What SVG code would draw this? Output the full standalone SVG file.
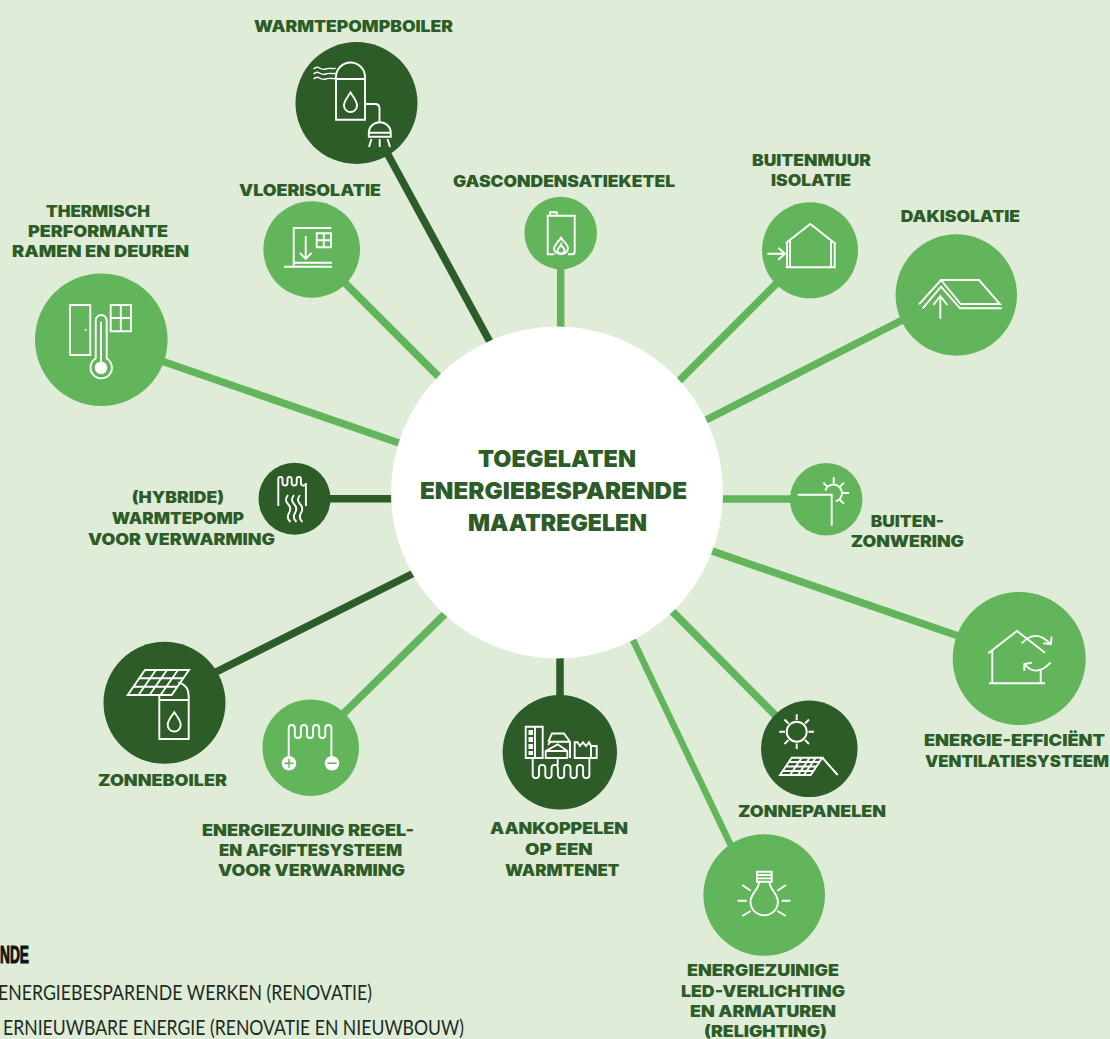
<svg xmlns="http://www.w3.org/2000/svg" width="1110" height="1039" viewBox="0 0 1110 1039">
<style>
.d{fill:#2d5c28}.g{fill:#62b55a}
.c line{stroke-width:7.5;fill:none}.cd{stroke:#2d5c28}.cg{stroke:#62b55a}
.i{fill:none;stroke:#fff;stroke-width:1.9;stroke-linecap:butt;stroke-linejoin:miter}
.w{fill:#fff}
text{font-family:Inter,"Liberation Sans",sans-serif;font-weight:900;fill:#2d5c28;font-size:16px}
.t{font-size:23.500px}
.l{font-family:Lato,"Liberation Sans",sans-serif;font-weight:400;fill:#1c2b1c;font-size:22px}
.lb{font-family:"Liberation Sans",sans-serif;font-weight:700;fill:#111;font-size:23px;stroke:#111;stroke-width:1}
</style>
<rect width="1110" height="1039" fill="#dfecd8"/>
<g id="connectors" class="c">
<line class="cd" x1="380" y1="140" x2="490" y2="342"/>
<line class="cg" x1="340" y1="278" x2="440" y2="378"/>
<line class="cg" x1="560.700" y1="265" x2="560.700" y2="330"/>
<line class="cg" x1="781" y1="279" x2="679" y2="381"/>
<line class="cg" x1="930" y1="306" x2="706" y2="420"/>
<line class="cg" x1="150" y1="357" x2="399" y2="443"/>
<line class="cd" x1="325" y1="498.700" x2="395" y2="498.700"/>
<line class="cd" x1="200" y1="680" x2="414" y2="573"/>
<line class="cg" x1="340" y1="717" x2="446" y2="613"/>
<line class="cd" x1="560" y1="655" x2="560" y2="700"/>
<line class="cg" x1="780" y1="720" x2="672" y2="611"/>
<line class="cg" x1="745" y1="875" x2="633" y2="640" style="stroke-width:6.500"/>
<line class="cg" x1="720" y1="499" x2="795" y2="499"/>
<line class="cg" x1="970" y1="640" x2="712" y2="551"/>
</g>
<g id="center"><circle cx="557" cy="492.500" r="166" fill="#fff"/>
<text class="t" x="478" y="467" textLength="158" lengthAdjust="spacingAndGlyphs">TOEGELATEN</text>
<text class="t" x="420" y="499" textLength="267" lengthAdjust="spacingAndGlyphs">ENERGIEBESPARENDE</text>
<text class="t" x="468" y="531" textLength="179" lengthAdjust="spacingAndGlyphs">MAATREGELEN</text></g>

<g id="warmtepompboiler"><circle class="d" cx="356.500" cy="103" r="61"/>
<path class="i" d="M336 119.700V77a14.500 14.500 0 0 1 29 0V119.700ZM336 79H365M350.500 92.500C347 98 344 101 344 105.500a6.500 6.500 0 0 0 13 0C357 101 354 98 350.500 92.500ZM365 104H375q4.500 0 4.500 4.500V122M368.800 132.700a11 10.500 0 0 1 22 0ZM368.800 132.700V136.700H390.800V132.700M371.500 139L369 147M379.700 139V147M387.500 139L390 147"/>
<path class="i" style="stroke-width:1.400" d="M313.500 69q3-3 6-1t6 1t6-.5 4-.5M313.500 74q3-3 6-1t6 1t6-.5 4-.5M313.500 79q3-3 6-1t6 1t6-.5 4-.5"/>
<text x="254" y="32" textLength="199" lengthAdjust="spacingAndGlyphs">WARMTEPOMPBOILER</text></g>

<g id="vloerisolatie"><circle class="g" cx="311.700" cy="249.500" r="48.300"/>
<path class="i" d="M331.300 228H293.700V266.700M293.700 262.700H332M284 266.700H332M305.700 236V259M300 253L305.700 259L311.500 253M316.700 233.300H331V247.300H316.700ZM323.800 233.300V247.300M316.700 240.300H331"/>
<text x="239" y="195.700" textLength="142" lengthAdjust="spacingAndGlyphs">VLOERISOLATIE</text></g>

<g id="gascondensatieketel"><circle class="g" cx="560.700" cy="233" r="36.300"/>
<path class="i" d="M554.500 254.300H547.700V215.700H574.700V252a2.300 2.300 0 0 1-2.300 2.300H568M550 215.700V212.300H556.700V215.700M561 237C562 241 568 244 568 248.500a7 5.500 0 0 1-14 0C554 245 557.500 244 558 241C559 241 560.500 239 561 237ZM561 244.500C561.500 247 565 248 564.500 250.500a3.500 3 0 0 1-7 0C557.500 248.500 560 247 561 244.500Z"/>
<text x="453" y="186.700" textLength="222" lengthAdjust="spacingAndGlyphs">GASCONDENSATIEKETEL</text></g>

<g id="buitenmuurisolatie"><circle class="g" cx="810" cy="250.300" r="48"/>
<path class="i" d="M785.700 243.300L810.300 224L835.700 244M787 241.700V267.300M790 239.500V267.300M831 240.500V267.300M834.700 243V267.300M785.700 267.300H835.700M767.300 253.700H785M778.300 247.700L785 253.700L778.300 259.700"/>
<text x="752" y="166" textLength="119" lengthAdjust="spacingAndGlyphs">BUITENMUUR</text>
<text x="771" y="186" textLength="80" lengthAdjust="spacingAndGlyphs">ISOLATIE</text></g>

<g id="dakisolatie"><circle class="g" cx="956.300" cy="295" r="60.700"/>
<path class="i" d="M919 304.300L941 280H979L1000 304H960.700L941 280M922.700 308.300L941 286.700L960 308.300H1001.700M940.300 296V318.700M933.300 305L940.300 296L947.300 305"/>
<text x="900.700" y="221.700" textLength="119.300" lengthAdjust="spacingAndGlyphs">DAKISOLATIE</text></g>

<g id="ramen"><circle class="g" cx="101.300" cy="339.700" r="66.300"/>
<path class="i" d="M70 305H90.300V355H70ZM110.700 305H131V331.300H110.700ZM120.800 305V331.300M110.700 318H131M95.700 358.500V320.500a5.500 5.500 0 0 1 11 0V358.500a10.700 10.700 0 1 1-11 0ZM101 321.700V363"/>
<circle class="w" cx="101" cy="367.700" r="6.300"/><circle class="w" cx="85.700" cy="330" r="1.100"/>
<text x="46" y="217" textLength="104" lengthAdjust="spacingAndGlyphs">THERMISCH</text>
<text x="28" y="237" textLength="140" lengthAdjust="spacingAndGlyphs">PERFORMANTE</text>
<text x="12" y="257" textLength="177" lengthAdjust="spacingAndGlyphs">RAMEN EN DEUREN</text></g>

<g id="hybride"><circle class="d" cx="294.500" cy="498.700" r="36"/>
<path class="i" d="M278.300 506V479a2.100 2.100 0 0 1 4.200 0v4a2.500 2.500 0 0 0 5 0v-4a2.100 2.100 0 0 1 4.200 0v4a2.500 2.500 0 0 0 5 0v-4a2.100 2.100 0 0 1 4.200 0v4a2.500 2.500 0 0 0 5 0V506M288 495q-4 5 0 9t1 9t1.500 9M294 495q-4 5 0 9t1 9t1.500 9M300 495q-4 5 0 9t1 9t1.500 9"/>
<text x="131.700" y="503.300" textLength="92.300" lengthAdjust="spacingAndGlyphs">(HYBRIDE)</text>
<text x="111.700" y="524.300" textLength="132.300" lengthAdjust="spacingAndGlyphs">WARMTEPOMP</text>
<text x="88" y="545" textLength="187" lengthAdjust="spacingAndGlyphs">VOOR VERWARMING</text></g>

<g id="zonneboiler"><circle class="d" cx="164.500" cy="702.800" r="61"/>
<path class="i" d="M127.700 695L145 670H189L171.700 695ZM139 678.300H183.500M133.500 686.700H177.500M138.500 695L156 670M149.500 695L167 670M160.500 695L178 670M178.300 682.300Q188.700 685 188.700 696V739H159.300V695M159.300 700H188.700M174.300 712.300C171.500 716.500 167.700 720 167.700 725a6.500 6.500 0 0 0 13 0C180.700 720 177 716.500 174.300 712.300Z"/>
<text x="98" y="785.700" textLength="129" lengthAdjust="spacingAndGlyphs">ZONNEBOILER</text></g>

<g id="regel"><circle class="g" cx="310.700" cy="747.700" r="48.300"/>
<path class="i" d="M288.700 757V728a3.050 3.050 0 0 1 6.100 0v7a3.050 3.050 0 0 0 6.100 0v-7a3.050 3.050 0 0 1 6.100 0v7a3.050 3.050 0 0 0 6.100 0v-7a3.050 3.050 0 0 1 6.100 0v7a3.050 3.050 0 0 0 6.100 0v-7a3.050 3.050 0 0 1 6.100 0V757"/>
<circle class="w" cx="289" cy="763.300" r="7.300"/><circle class="w" cx="332" cy="763.300" r="7.300"/>
<path d="M284.500 763.300h9M289 758.800v9M327.500 763.300h9" stroke="#62b55a" stroke-width="1.500" fill="none"/>
<text x="202" y="836" textLength="212" lengthAdjust="spacingAndGlyphs">ENERGIEZUINIG REGEL-</text>
<text x="219" y="856" textLength="183" lengthAdjust="spacingAndGlyphs">EN AFGIFTESYSTEEM</text>
<text x="218" y="876" textLength="187" lengthAdjust="spacingAndGlyphs">VOOR VERWARMING</text></g>

<g id="warmtenet"><circle class="d" cx="559.800" cy="752.300" r="57.200"/>
<path class="i" d="M525.700 726.700H542.700V758H525.700ZM535 726.700V758M548.300 741.700L552 733.500H564L570 741.700V758M548.300 741.700H570M545.700 751L557.700 744.300L567.300 751V758H545.700ZM548 745L551 741M557.700 758V765M545.700 751H567.300M574.700 742.300V758H596.700V746H591L589 742.300L586 746L583 742.300L580 746L577.500 742.300ZM591 746V758M532.700 758V775a3.150 3.150 0 0 0 6.300 0v-7a3.150 3.150 0 0 1 6.300 0v7a3.150 3.150 0 0 0 6.300 0v-7a3.150 3.150 0 0 1 6.300 0v7a3.150 3.150 0 0 0 6.300 0v-7a3.150 3.150 0 0 1 6.300 0v7a3.150 3.150 0 0 0 6.300 0v-7a3.150 3.150 0 0 1 6.300 0v7a3.150 3.150 0 0 0 6.300 0V758"/>
<path class="w" d="M528.500 730h4.500v5h-4.500zM528.500 737h4.500v5h-4.500zM528.500 744h4.500v5h-4.500zM528.500 751h4.500v4h-4.500z"/>
<text x="490" y="834.300" textLength="138" lengthAdjust="spacingAndGlyphs">AANKOPPELEN</text>
<text x="525" y="855" textLength="67.700" lengthAdjust="spacingAndGlyphs">OP EEN</text>
<text x="505" y="875.700" textLength="114.300" lengthAdjust="spacingAndGlyphs">WARMTENET</text></g>

<g id="zonnepanelen"><circle class="d" cx="809.300" cy="748.800" r="48.300"/>
<circle class="i" cx="796.700" cy="731.700" r="10"/>
<path class="i" d="M796.700 714.300V720M796.700 743.500V749M779.300 731.700H785M808.500 731.700H814M784.500 719.500L788.500 723.500M809 719.500L805 723.500M784.500 744L788.500 740M809 744L805 740M780 775L791.700 757.700H822.300L810.700 775ZM786 766.500H816.500M790 775L801.700 757.700M798 775L809.700 757.700M804 775L815.700 757.700M822.300 757.700L837.700 775M783 771H813M788 762H819"/>
<text x="738" y="816.700" textLength="148" lengthAdjust="spacingAndGlyphs">ZONNEPANELEN</text></g>

<g id="led"><circle class="g" cx="764.200" cy="895" r="60.800"/>
<path class="i" d="M757 871.700H771.700V881.700H757ZM757 875H771.700M757 878.400H771.700M759 881.700C759 890 750.500 893 750.500 902a13.700 13.300 0 0 0 27.400 0C777.900 893 769.500 890 769.500 881.700M737.700 900.700H746.700M742.300 885L750.700 890.700M742.300 916L750.700 911M790.300 900.700H781.700M786 885L777.300 890.700M786 916L777.300 911"/>
<text x="687" y="976" textLength="152" lengthAdjust="spacingAndGlyphs">ENERGIEZUINIGE</text>
<text x="681" y="997" textLength="164" lengthAdjust="spacingAndGlyphs">LED-VERLICHTING</text>
<text x="690" y="1017" textLength="146" lengthAdjust="spacingAndGlyphs">EN ARMATUREN</text>
<text x="704" y="1037" textLength="123" lengthAdjust="spacingAndGlyphs">(RELIGHTING)</text></g>

<g id="zonwering"><circle class="g" cx="826.200" cy="499.300" r="36.200"/>
<path class="i" d="M797.700 494.700H831.700V525.700M825.300 490.700A8.500 8.500 0 1 1 835.700 501.300M833.700 477.300V483.300M842.700 493H849M823.300 482.700L827 486.300M844 482.700L840 486.700M840 500L844 503.700"/>
<text x="870.700" y="526.700" textLength="73.300" lengthAdjust="spacingAndGlyphs">BUITEN-</text>
<text x="850.700" y="547.300" textLength="113.300" lengthAdjust="spacingAndGlyphs">ZONWERING</text></g>

<g id="ventilatie"><circle class="g" cx="1019.200" cy="658.500" r="66.500"/>
<path class="i" d="M988.300 653.300L1017 631L1045 652.700M992.300 650V683.300M1040.700 670V683.300M989 683.300H1045M1021.700 643.300Q1036 628 1050.700 644.300M1051.700 636.700L1050.700 644.300L1043.300 643.300M1050.700 662.300Q1036 678 1024.300 664M1024.300 670.700V664L1031.700 662.700"/>
<text x="924" y="746" textLength="181" lengthAdjust="spacingAndGlyphs">ENERGIE-EFFICIËNT</text>
<text x="925" y="767" textLength="184" lengthAdjust="spacingAndGlyphs">VENTILATIESYSTEEM</text></g>

<g id="legend">
<text class="lb" x="0" y="963" textLength="29" lengthAdjust="spacingAndGlyphs">NDE</text>
<text class="l" x="-2" y="1000" textLength="374" lengthAdjust="spacingAndGlyphs">ENERGIEBESPARENDE WERKEN (RENOVATIE)</text>
<text class="l" x="3" y="1035" textLength="461" lengthAdjust="spacingAndGlyphs">ERNIEUWBARE ENERGIE (RENOVATIE EN NIEUWBOUW)</text>
</g>
</svg>
